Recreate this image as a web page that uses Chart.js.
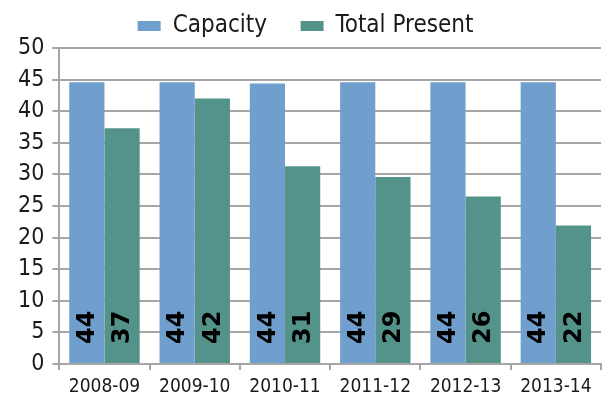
<!DOCTYPE html>
<html>
<head>
<meta charset="utf-8">
<script src="https://cdn.jsdelivr.net/npm/chart.js@4"></script>
<style>
html,body{margin:0;padding:0;background:#fff;}
#wrap{width:605px;height:402px;}
</style>
</head>
<body>
<div id="wrap"><canvas id="c" width="605" height="402"></canvas></div>
<script>
const categories = ["2008-09","2009-10","2010-11","2011-12","2012-13","2013-14"];
const capacity = [44.6, 44.6, 44.4, 44.6, 44.6, 44.6];
const totalPresent = [37.3, 42.0, 31.3, 29.6, 26.5, 21.9];
const capacityLabels = ["44","44","44","44","44","44"];
const presentLabels = ["37","42","31","29","26","22"];
const yTicks = [0,5,10,15,20,25,30,35,40,45,50];

const FONT = "'DejaVu Sans Condensed','DejaVu Sans',sans-serif";

const barLabels = {
  id: 'barLabels',
  afterDatasetsDraw(chart) {
    const ctx = chart.ctx;
    const lbls = [capacityLabels, presentLabels];
    chart.data.datasets.forEach((ds, di) => {
      const meta = chart.getDatasetMeta(di);
      meta.data.forEach((bar, i) => {
        ctx.save();
        ctx.translate(bar.x, bar.base - 19);
        ctx.rotate(-Math.PI / 2);
        ctx.font = "bold 24px 'DejaVu Sans', sans-serif";
        ctx.fillStyle = '#000';
        ctx.textAlign = 'left';
        ctx.textBaseline = 'middle';
        ctx.fillText(lbls[di][i], 0, 1);
        ctx.restore();
      });
    });
  }
};

new Chart(document.getElementById('c'), {
  type: 'bar',
  data: {
    labels: categories,
    datasets: [
      { label: 'Capacity', data: capacity, backgroundColor: '#709fcd' },
      { label: 'Total Present', data: totalPresent, backgroundColor: '#54938a' }
    ]
  },
  options: {
    responsive: false,
    animation: false,
    devicePixelRatio: 1,
    layout: { padding: { left: 10, right: 4, top: 2, bottom: -3 } },
    datasets: { bar: { barPercentage: 1.0, categoryPercentage: 0.78 } },
    plugins: {
      legend: {
        position: 'top',
        labels: {
          font: { family: FONT, size: 24 },
          color: '#1a1a1a',
          boxWidth: 23,
          boxHeight: 10,
          padding: 12,
          generateLabels(chart) {
            const items = Chart.defaults.plugins.legend.labels.generateLabels(chart);
            items.forEach((it, i) => { if (i < items.length - 1) it.text = it.text + '\u2002\u2002'; });
            return items;
          }
        }
      },
      tooltip: { enabled: false }
    },
    scales: {
      x: {
        grid: { drawOnChartArea: false, drawTicks: true, tickLength: 6, color: '#a6a6a6', lineWidth: 2 },
        border: { color: '#a6a6a6', width: 2 },
        ticks: { font: { family: FONT, size: 19, lineHeight: 1.0 }, color: '#1a1a1a', padding: 8, maxRotation: 0 }
      },
      y: {
        min: 0, max: 50,
        afterBuildTicks(axis) { axis.ticks = yTicks.map(v => ({ value: v })); },
        grid: { color: '#a6a6a6', lineWidth: 2, tickLength: 7 },
        border: { color: '#a6a6a6', width: 2 },
        ticks: { font: { family: FONT, size: 23 }, color: '#1a1a1a', padding: 8 }
      }
    }
  },
  plugins: [barLabels]
});
</script>
</body>
</html>
